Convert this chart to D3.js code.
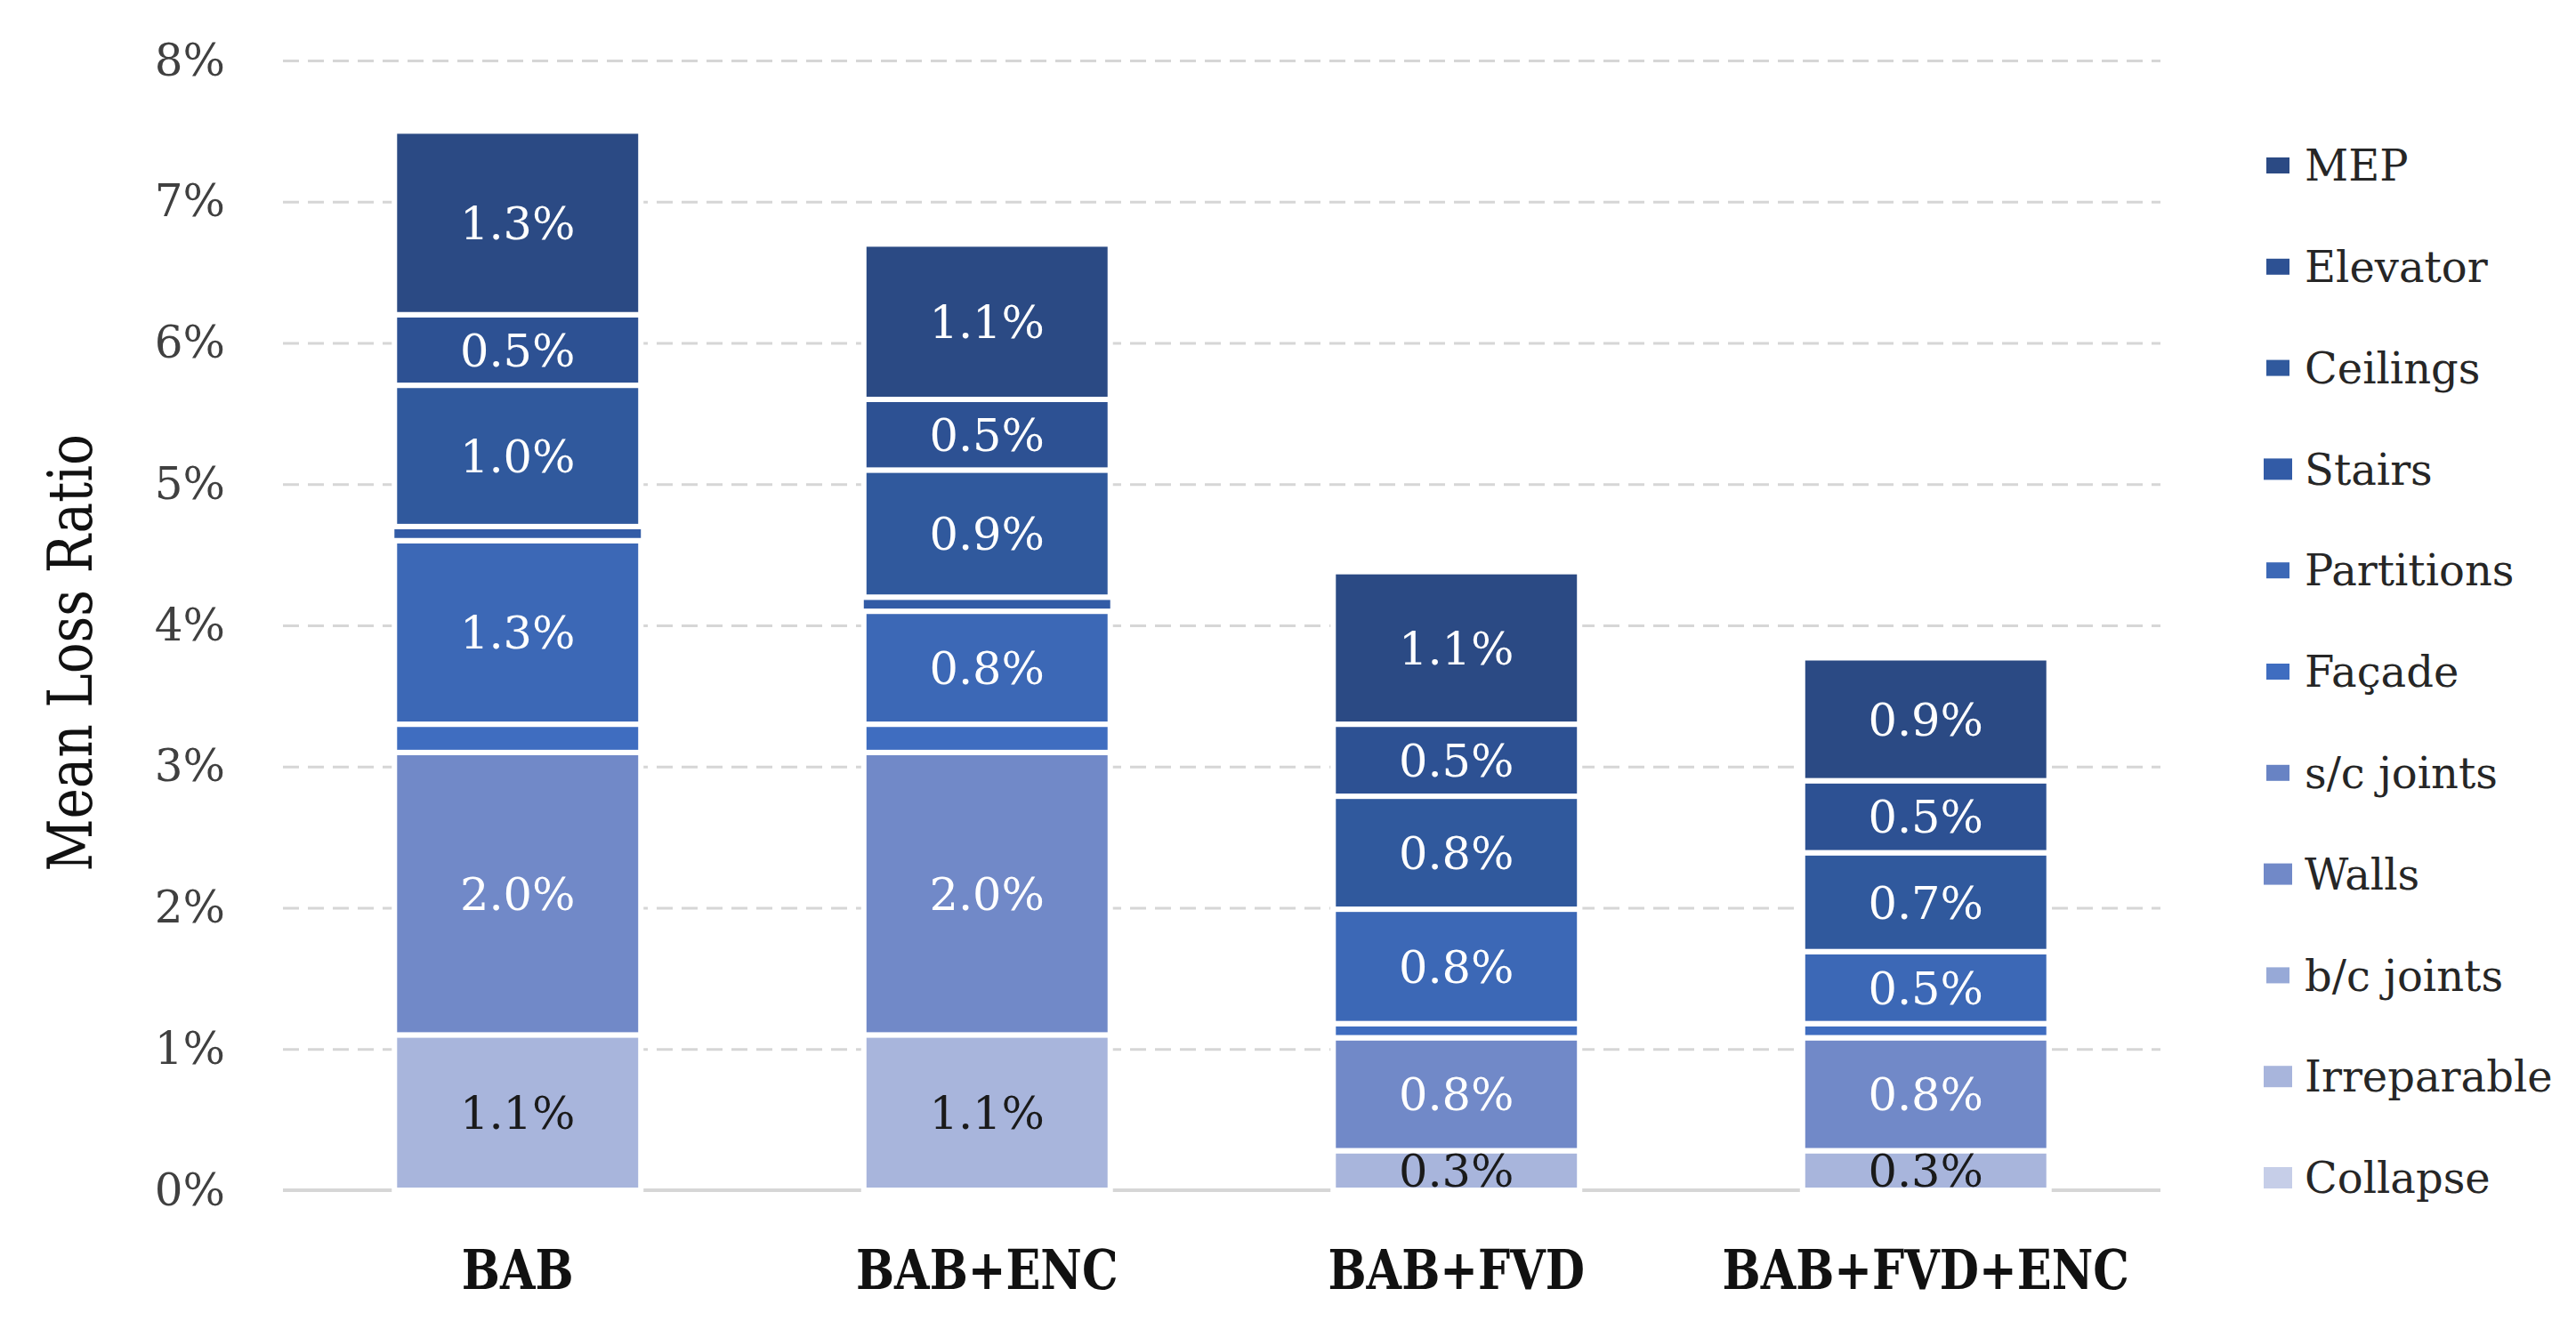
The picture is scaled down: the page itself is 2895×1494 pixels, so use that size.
<!DOCTYPE html>
<html><head><meta charset="utf-8">
<script src="https://cdn.jsdelivr.net/npm/d3@7"></script>
<style>body{margin:0;background:#fff}svg{display:block}</style>
</head><body>
<svg id="chart" width="2895" height="1494"></svg>
<script>
// ---- data ----
const categories = ["BAB", "BAB+ENC", "BAB+FVD", "BAB+FVD+ENC"];
const seriesNames = ["Collapse", "Irreparable", "b/c joints", "Walls", "s/c joints", "Façade", "Partitions", "Stairs", "Ceilings", "Elevator", "MEP"];
const collapse    = [0, 0, 0, 0];
const irreparable = [1.1, 1.1, 0.28, 0.28];
const bcJoints    = [0, 0, 0, 0];
const walls       = [2.0, 2.0, 0.8, 0.8];
const scJoints    = [0, 0, 0, 0];
const facade      = [0.2, 0.2, 0.1, 0.1];
const partitions  = [1.3, 0.8, 0.81, 0.51];
const stairs      = [0.1, 0.1, 0, 0];
const ceilings    = [1.0, 0.9, 0.8, 0.7];
const elevator    = [0.5, 0.5, 0.51, 0.51];
const mep         = [1.3, 1.1, 1.08, 0.87];
const yTicks = [0, 1, 2, 3, 4, 5, 6, 7, 8];
const seriesColors = ["#c6cee8", "#a8b5dc", "#97a9d7", "#7189c8", "#6883c4", "#3f6dc0", "#3c68b6", "#325ba6", "#30599d", "#2d5193", "#2b4a84"];
const labelColors  = ["#1a1a1a", "#1a1a1a", "#1a1a1a", "#ffffff", "#ffffff", "#ffffff", "#ffffff", "#ffffff", "#ffffff", "#ffffff", "#ffffff"];

const seriesValues = [collapse, irreparable, bcJoints, walls, scJoints, facade, partitions, stairs, ceilings, elevator, mep];
const table = categories.map((c, i) => {
  const row = {cat: c};
  seriesNames.forEach((s, k) => row[s] = seriesValues[k][i]);
  return row;
});

// ---- layout ----
const svg = d3.select("#chart");
svg.append("rect").attr("width", 2895).attr("height", 1494).attr("fill", "#fff");
const L = 318, R = 2428, T = 68, B = 1338;
const x = d3.scaleBand().domain(categories).range([L, R]).paddingInner(0.475).paddingOuter(0.2375);
const y = d3.scaleLinear().domain([0, 8]).range([B, T]);
const serif = "'DejaVu Serif', 'Liberation Serif', serif";

// gridlines
const grid = svg.append("g").attr("transform", `translate(${L},0)`)
  .call(d3.axisLeft(y).tickValues(yTicks.slice(1)).tickSize(-(R - L)).tickFormat(""));
grid.select(".domain").remove();
grid.selectAll(".tick line").attr("stroke", "#d6d6d6").attr("stroke-width", 3).attr("stroke-dasharray", "18,10");

// baseline
svg.append("line").attr("x1", L).attr("x2", R).attr("y1", y(0)).attr("y2", y(0))
  .attr("stroke", "#d6d6d6").attr("stroke-width", 4);

// y tick labels
const yAxis = svg.append("g").attr("transform", `translate(253,0)`)
  .call(d3.axisLeft(y).tickValues(yTicks).tickSize(0).tickPadding(0).tickFormat(d => d + "%"));
yAxis.select(".domain").remove();
yAxis.selectAll("text").attr("font-family", serif).attr("font-size", 50).attr("fill", "#404040");

// stacked bars
const stack = d3.stack().keys(seriesNames)(table);
const layers = svg.append("g").selectAll("g").data(stack).join("g")
  .attr("fill", (d, i) => seriesColors[i]);
layers.selectAll("rect").data(d => d.map(v => ({v, key: d.key}))).join("rect")
  .filter(d => d.v[1] - d.v[0] > 0)
  .attr("x", d => x(d.v.data.cat) - (d.key === "Stairs" ? 3 : 0))
  .attr("width", d => x.bandwidth() + (d.key === "Stairs" ? 6 : 0))
  .attr("y", d => y(d.v[1]))
  .attr("height", d => y(d.v[0]) - y(d.v[1]))
  .attr("stroke", "#fff").attr("stroke-width", 6);

// segment labels
const fmt = d3.format(".1f");
stack.forEach((layer, i) => {
  svg.append("g").selectAll("text").data(layer.filter(v => v[1] - v[0] >= 0.25)).join("text")
    .attr("x", v => x(v.data.cat) + x.bandwidth() / 2)
    .attr("y", v => y((v[0] + v[1]) / 2))
    .attr("dy", "0.36em")
    .attr("text-anchor", "middle")
    .attr("font-family", serif).attr("font-size", 51)
    .attr("fill", labelColors[i])
    .text(v => fmt(v[1] - v[0]) + "%");
});

// category labels
svg.append("g").selectAll("text").data(categories).join("text")
  .attr("transform", d => `translate(${x(d) + x.bandwidth() / 2},1427) scale(1,1.2)`)
  .attr("dy", "0.36em").attr("text-anchor", "middle")
  .attr("font-family", serif).attr("font-weight", "bold").attr("font-size", 51).attr("fill", "#111")
  .text(d => d);

// y title
svg.append("text")
  .attr("transform", "translate(78,734) rotate(-90) scale(1,1.2)")
  .attr("dy", "0.36em").attr("text-anchor", "middle")
  .attr("font-family", serif).attr("font-size", 58).attr("fill", "#111")
  .text("Mean Loss Ratio");

// legend
const bordered = new Set(["Stairs", "Walls", "Irreparable", "Collapse"]);
const legendItems = seriesNames.map((s, i) => ({s, i})).reverse();
const lg = svg.append("g").selectAll("g").data(legendItems).join("g")
  .attr("transform", (d, j) => `translate(2560,${186 + j * 113.8})`);
lg.append("rect")
  .attr("x", d => bordered.has(d.s) ? -16 : -13)
  .attr("y", d => bordered.has(d.s) ? -12 : -9)
  .attr("width", d => bordered.has(d.s) ? 32 : 26)
  .attr("height", d => bordered.has(d.s) ? 24 : 18)
  .attr("fill", d => seriesColors[d.i]);
lg.append("text").attr("x", 30).attr("dy", "0.36em")
  .attr("font-family", serif).attr("font-size", 48).attr("fill", "#262626")
  .text(d => d.s);
</script>
</body></html>
